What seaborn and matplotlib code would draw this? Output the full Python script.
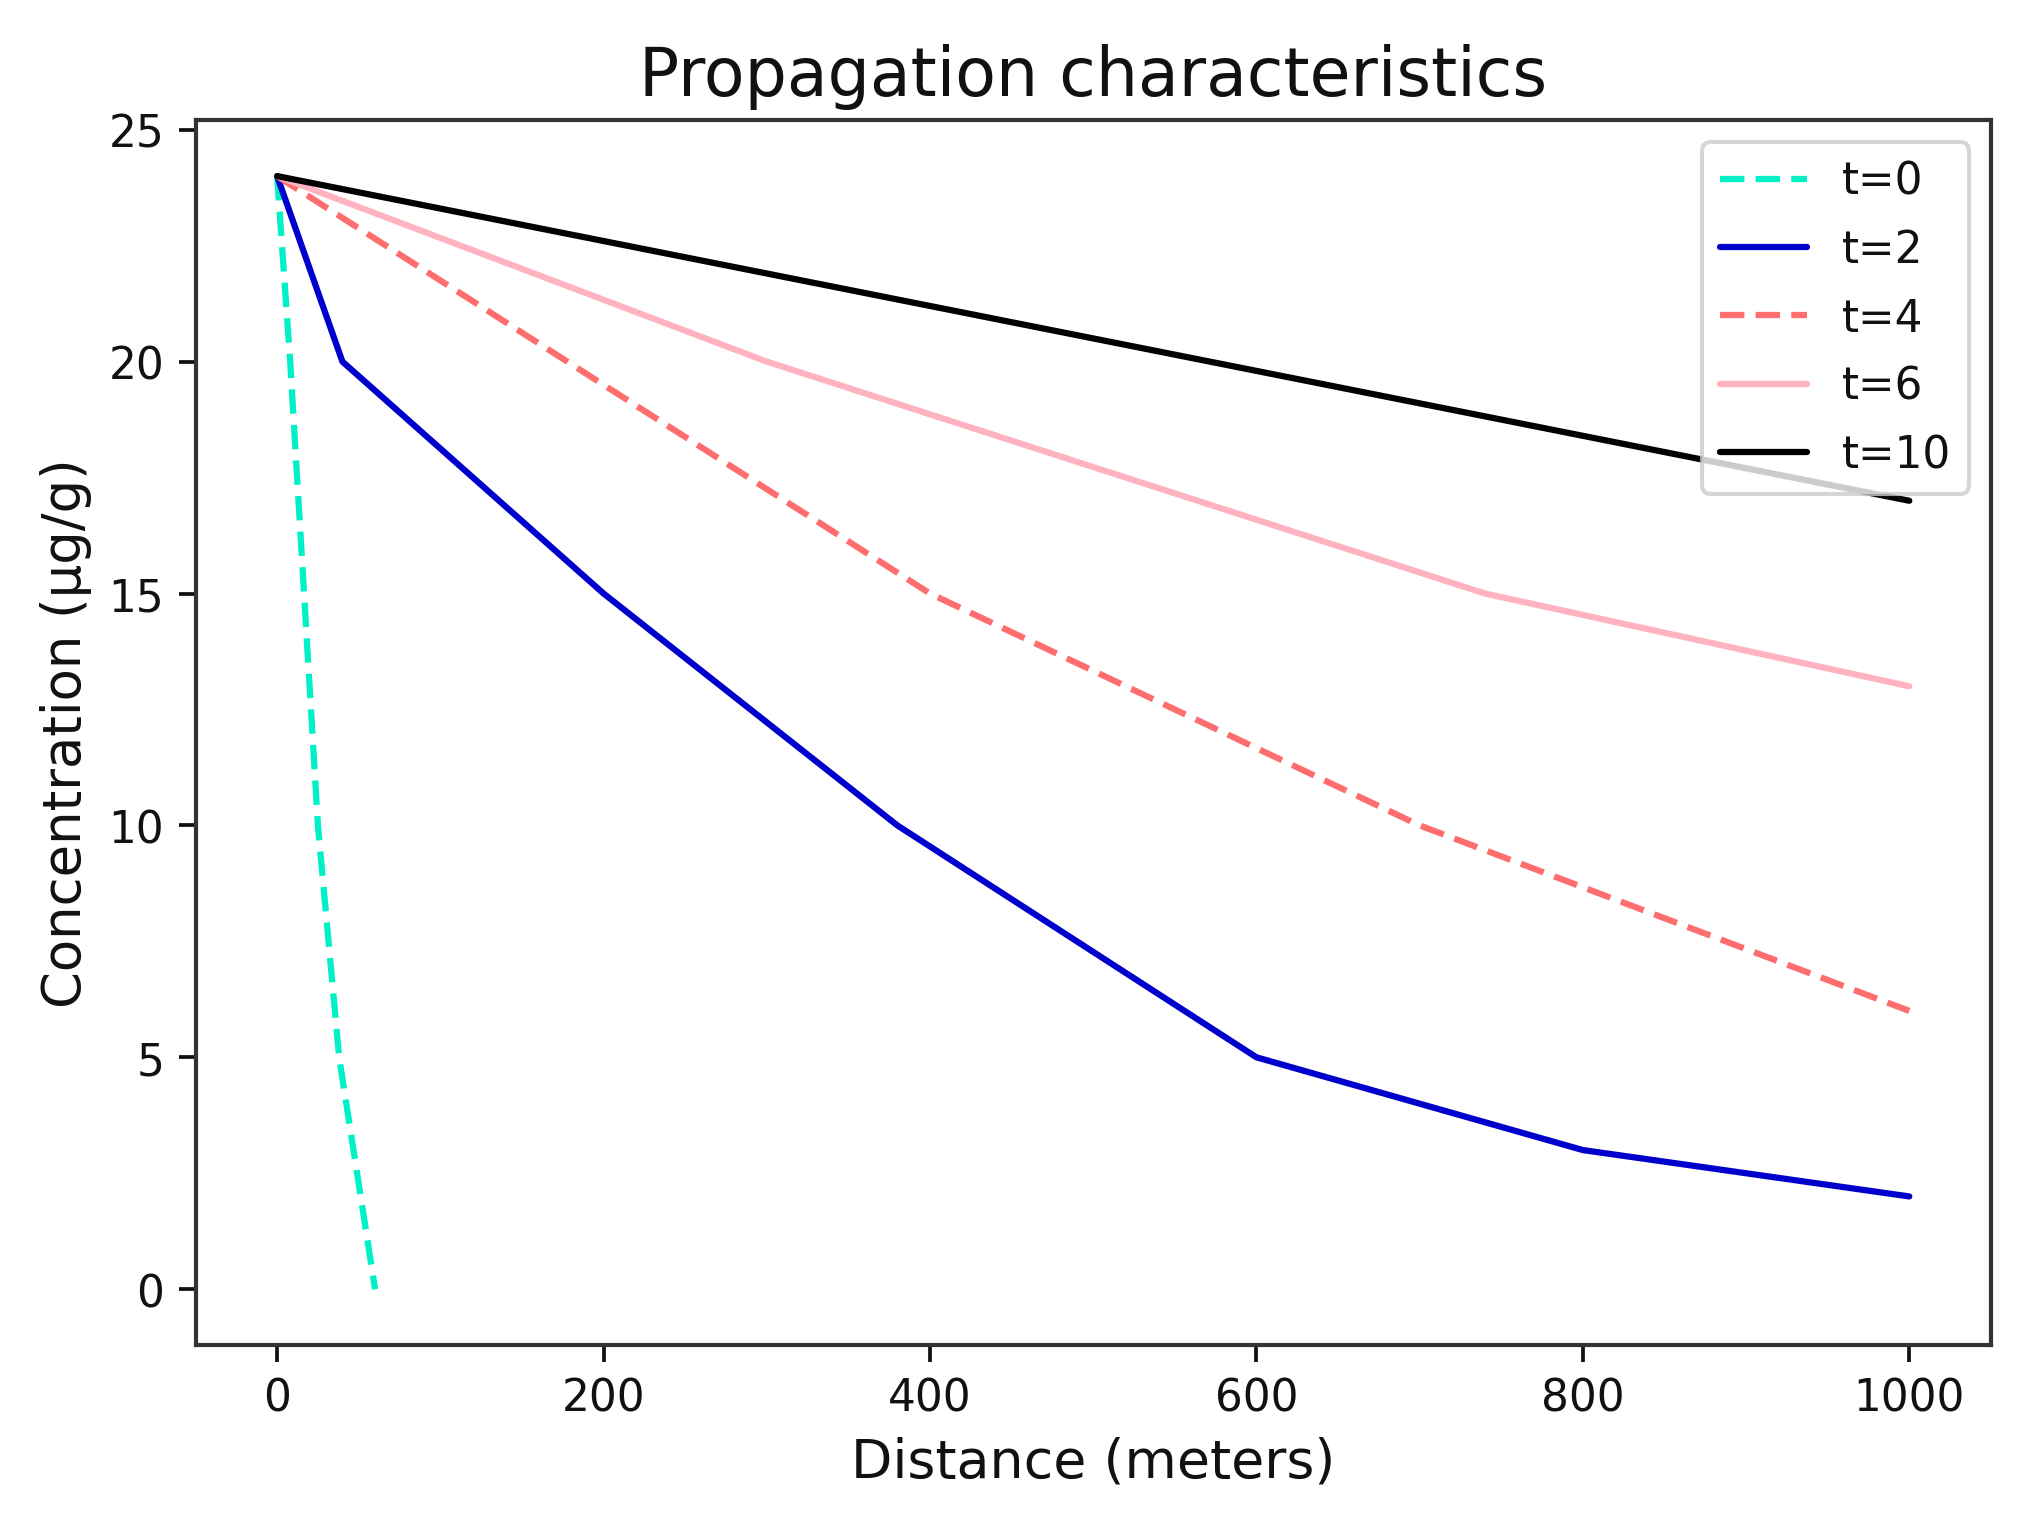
import numpy as np
import pandas as pd
import matplotlib
matplotlib.use("Agg")
import matplotlib.pyplot as plt
import seaborn as sns

# ---- data ----
labels = ["t=0", "t=2", "t=4", "t=6", "t=10"]
x_t0 = [0, 8, 25, 38, 60]
y_t0 = [24, 20, 10, 5, 0]
x_t2 = [0, 40, 200, 380, 600, 800, 1000]
y_t2 = [24, 20, 15, 10, 5, 3, 2]
x_t4 = [0, 400, 700, 1000]
y_t4 = [24, 15, 10, 6]
x_t6 = [0, 300, 740, 1000]
y_t6 = [24, 20, 15, 13]
x_t10 = [0, 1000]
y_t10 = [24, 17]

xs = [x_t0, x_t2, x_t4, x_t6, x_t10]
ys = [y_t0, y_t2, y_t4, y_t6, y_t10]
frames = [pd.DataFrame({"Distance": x, "Concentration": y, "series": lab})
          for x, y, lab in zip(xs, ys, labels)]
df = pd.concat(frames, ignore_index=True)

colors = {"t=0": "#00F0C8", "t=2": "#0000CC", "t=4": "#FF6E6E",
          "t=6": "#FFB3C0", "t=10": "#000000"}
dashes = {"t=0": (3.9, 1.8), "t=2": "", "t=4": (3.9, 1.8),
          "t=6": "", "t=10": ""}

sns.set_style("ticks")
plt.rcParams['font.family'] = ['DejaVu Sans']
plt.rcParams['text.color'] = '#111111'
plt.rcParams['axes.labelcolor'] = '#111111'

fig = plt.figure(figsize=(6.81, 5.06), dpi=300)
ax = fig.add_axes([0.0957, 0.1134, 0.9745 - 0.0957, 0.920 - 0.1134])

sns.lineplot(data=df, x="Distance", y="Concentration", hue="series",
             style="series", hue_order=labels, style_order=labels,
             palette=colors, dashes=dashes, linewidth=1.5, ax=ax,
             sort=False, estimator=None)

ax.set_xlim(-50, 1050)
ax.set_ylim(-1.2, 25.2)
ax.set_xticks([0, 200, 400, 600, 800, 1000])
ax.set_yticks([0, 5, 10, 15, 20, 25])
ax.tick_params(labelsize=10.5, width=0.9, length=4, colors="#111111")
for s in ax.spines.values():
    s.set_color("#333333")
    s.set_linewidth(1.0)

ax.set_title("Propagation characteristics", fontsize=16, color="#111111")
ax.set_xlabel("Distance (meters)", fontsize=12.9)
ax.set_ylabel("Concentration (µg/g)", fontsize=12.7)

leg = ax.legend(loc="upper right", fontsize=10.5, framealpha=0.8,
                labelspacing=0.58)

fig.savefig("out.png", dpi=300)
